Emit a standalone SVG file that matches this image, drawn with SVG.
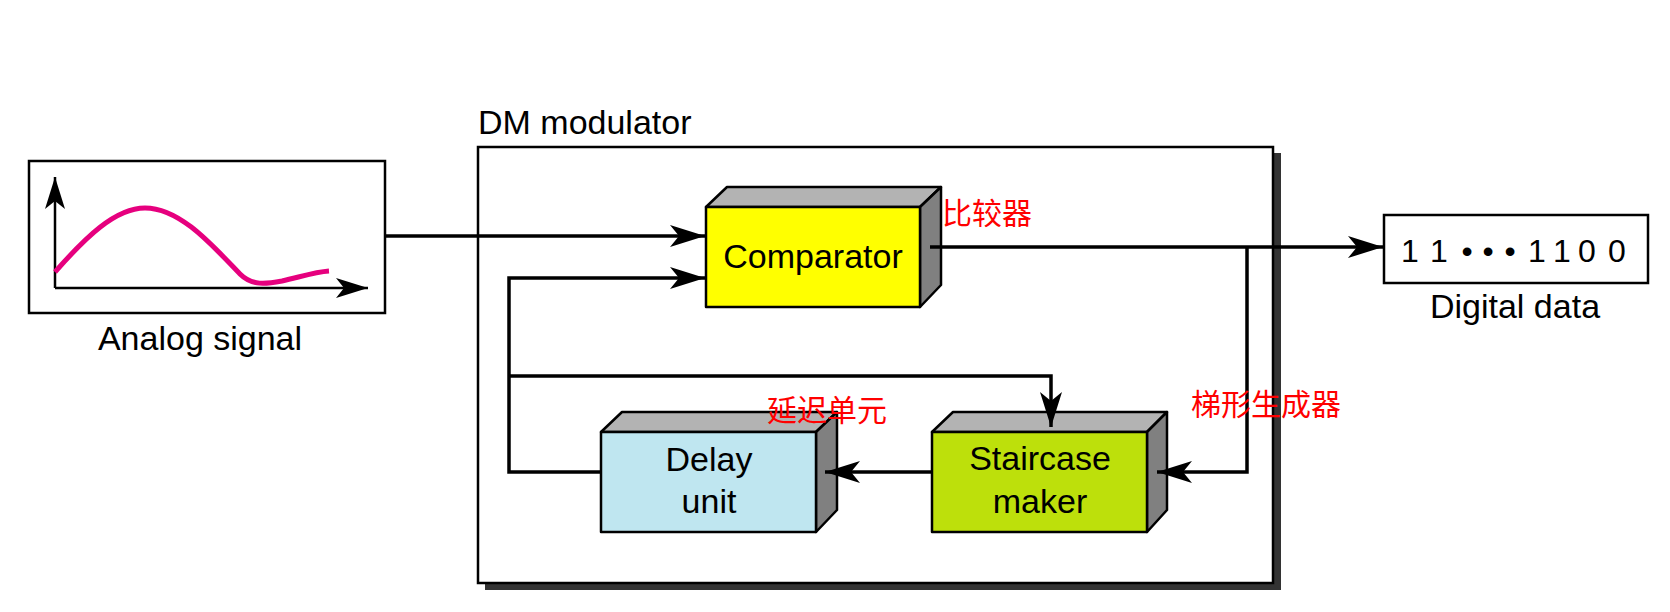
<svg xmlns="http://www.w3.org/2000/svg" width="1670" height="612" viewBox="0 0 1670 612">
<style>
.lbl{font-family:"Liberation Sans",Arial,sans-serif;fill:#000}
.box{font-size:34px;text-anchor:middle}
.cn{font-family:"Noto Sans CJK SC",sans-serif;font-size:30px;fill:#ff0000}
.ln{fill:none;stroke:#000;stroke-width:3.5}
.edge{stroke:#000;stroke-width:2.5;stroke-linejoin:round}
.top{fill:#b3b3b3}
.side{fill:#808080}
</style>
<defs>
<marker id="ah" markerUnits="userSpaceOnUse" markerWidth="40" markerHeight="26" viewBox="-36 -13 40 26" refX="0" refY="0" orient="auto">
<path d="M0,0 L-35,-11 L-26,0 L-35,11 Z" fill="#000"/>
</marker>
<marker id="ax" markerUnits="userSpaceOnUse" markerWidth="36" markerHeight="24" viewBox="-33 -12 36 24" refX="0" refY="0" orient="auto">
<path d="M0,0 L-32,-10 L-24,0 L-32,10 Z" fill="#000"/>
</marker>
</defs>

<g id="analog">
<rect x="29" y="161" width="356" height="152" fill="#fff" stroke="#000" stroke-width="2.5"/>
<line x1="55" y1="288" x2="55" y2="177" stroke="#000" stroke-width="2.5" marker-end="url(#ax)"/>
<line x1="55" y1="288" x2="368" y2="288" stroke="#000" stroke-width="2.5" marker-end="url(#ax)"/>
<path d="M55,272 C85,238 115,208 145,208 C180,208 212,245 240,274 C252,286 266,284 282,281 C300,277 315,272 329,271" fill="none" stroke="#e6007e" stroke-width="5"/>
<text class="lbl" x="200" y="350" font-size="34" text-anchor="middle">Analog signal</text>
</g>

<g id="dm-modulator">
<rect x="485" y="153" width="796" height="437" fill="#333"/>
<rect x="478" y="147" width="795" height="436" fill="#fff" stroke="#000" stroke-width="2.5"/>
<text class="lbl" x="478" y="134" font-size="34">DM modulator</text>
</g>

<g id="comparator">
<polygon class="top edge" points="706,207 727,187 941,187 920,207"/>
<polygon class="side edge" points="920,207 941,187 941,285 920,307"/>
<rect class="edge" x="706" y="207" width="214" height="100" fill="#ffff00"/>
<text class="lbl box" x="813" y="268">Comparator</text>
</g>

<g id="delay">
<polygon class="top edge" points="601,432 622,412 837,412 816,432"/>
<polygon class="side edge" points="816,432 837,412 837,510 816,532"/>
<rect class="edge" x="601" y="432" width="215" height="100" fill="#bfe6f0"/>
<text class="lbl box" x="709" y="471">Delay</text>
<text class="lbl box" x="709" y="513">unit</text>
</g>

<g id="staircase">
<polygon class="top edge" points="932,432 953,412 1167,412 1147,432"/>
<polygon class="side edge" points="1147,432 1167,412 1167,510 1147,532"/>
<rect class="edge" x="932" y="432" width="215" height="100" fill="#bde00b"/>
<text class="lbl box" x="1040" y="470">Staircase</text>
<text class="lbl box" x="1040" y="513">maker</text>
</g>

<g id="digital">
<rect x="1384" y="215" width="264" height="68" fill="#fff" stroke="#000" stroke-width="2.5"/>
<text class="lbl" font-size="32" text-anchor="middle" y="262" x="1410 1439 1467 1488 1510 1537 1562 1587 1617">11•••1100</text>
<text class="lbl" x="1515" y="318" font-size="34" text-anchor="middle">Digital data</text>
</g>

<g id="connectors">
<line class="ln" x1="385" y1="236" x2="705" y2="236" marker-end="url(#ah)"/>
<line class="ln" x1="930" y1="247" x2="1383" y2="247" marker-end="url(#ah)"/>
<polyline class="ln" points="1247,247 1247,472 1157,472" marker-end="url(#ah)"/>
<line class="ln" x1="932" y1="472" x2="825" y2="472" marker-end="url(#ah)"/>
<polyline class="ln" points="601,472 509,472 509,278 705,278" marker-end="url(#ah)"/>
<polyline class="ln" points="509,376 1051,376 1051,427" marker-end="url(#ah)"/>
</g>

<g id="notes">
<text class="cn" x="942" y="224">比较器</text>
<text class="cn" x="767" y="421">延迟单元</text>
<text class="cn" x="1191" y="415">梯形生成器</text>
</g>
</svg>
